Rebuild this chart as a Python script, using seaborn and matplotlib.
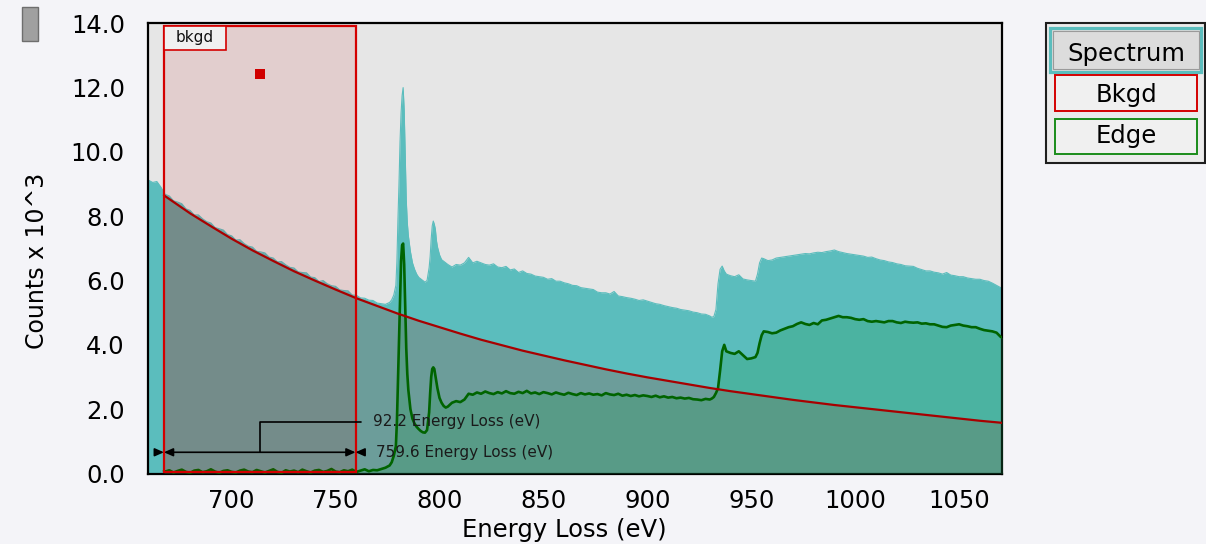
import numpy as np
import pandas as pd
import matplotlib
matplotlib.use("Agg")
import matplotlib.pyplot as plt
from matplotlib.patches import Rectangle
import seaborn as sns

# ---------------------------------------------------------------------------
# EELS spectrum around the Fe L2,3 edges (counts in units of 10^3)
# ---------------------------------------------------------------------------
energy_ev = np.concatenate([
    [660, 662, 664, 666, 667.4],
    np.arange(668, 777, 2),
    [777, 778, 779, 779.5, 780, 780.5, 781, 781.5, 782, 782.5,
     783, 783.5, 784, 784.5, 785],
    np.arange(786, 795, 1),
    [795, 795.5, 796, 796.5, 797, 797.5, 798, 798.5, 799],
    np.arange(800, 805, 1),
    np.arange(806, 931, 2),
    np.arange(931, 938, 1),
    np.arange(938, 953, 2),
    [953, 954, 955],
    np.arange(956, 1071, 2),
    [1071],
]).astype(float)

spectrum_counts = [
    9.12, 9.05, 9.08, 8.90, 8.74,
    8.68, 8.63, 8.48, 8.44, 8.39,
    8.23, 8.18, 8.04, 8.04, 7.92, 7.83, 7.79, 7.65, 7.61, 7.57,
    7.43, 7.39, 7.26, 7.27, 7.15, 7.07, 7.04, 6.91, 6.89, 6.86,
    6.73, 6.70, 6.58, 6.59, 6.49, 6.41, 6.39, 6.27, 6.25, 6.24,
    6.11, 6.09, 5.97, 6.00, 5.90, 5.84, 5.82, 5.71, 5.69, 5.68,
    5.55, 5.54, 5.46, 5.45, 5.39, 5.38, 5.30, 5.28, 5.26, 5.32,
    5.40, 5.55, 5.85, 6.60, 7.90, 9.00, 10.30, 11.20, 11.75, 12.00,
    11.30, 9.90, 8.50, 7.80, 7.40,
    6.90, 6.55, 6.35, 6.20, 6.10, 6.05, 6.00, 5.95, 6.00,
    6.40, 6.75, 7.30, 7.70, 7.85, 7.75, 7.60, 7.25, 7.05,
    6.80, 6.65, 6.60, 6.55, 6.50,
    6.42, 6.50, 6.48, 6.55, 6.72, 6.55, 6.60, 6.55, 6.50, 6.48, 6.52, 6.42,
    6.40, 6.44, 6.33, 6.36, 6.25, 6.30, 6.22, 6.20, 6.14, 6.12,
    6.10, 6.04, 6.06, 5.98, 5.98, 5.93, 5.90, 5.85, 5.84, 5.78,
    5.76, 5.74, 5.72, 5.64, 5.62, 5.62, 5.58, 5.66, 5.52, 5.50,
    5.47, 5.45, 5.42, 5.38, 5.40, 5.36, 5.32, 5.28, 5.26, 5.22,
    5.19, 5.16, 5.14, 5.10, 5.08, 5.06, 5.02, 5.00, 4.96, 4.95,
    4.90,
    4.86, 4.88, 5.10, 5.90, 6.35, 6.45, 6.30,
    6.20, 6.15, 6.12, 6.18, 6.05, 6.02, 6.00, 5.98,
    6.20, 6.55, 6.70,
    6.68, 6.62, 6.64, 6.70, 6.72, 6.74, 6.76, 6.78, 6.80, 6.82,
    6.84, 6.83, 6.86, 6.88, 6.87, 6.90, 6.92, 6.95, 6.90, 6.87,
    6.84, 6.82, 6.80, 6.78, 6.76, 6.72, 6.73, 6.68, 6.64, 6.62,
    6.58, 6.56, 6.52, 6.50, 6.46, 6.45, 6.44, 6.38, 6.34, 6.30,
    6.30, 6.26, 6.24, 6.20, 6.25, 6.17, 6.15, 6.12, 6.12, 6.08,
    6.06, 6.04, 6.04, 6.00, 5.98, 5.92, 5.85, 5.78,
    5.76,
]

# Background-subtracted edge signal, defined from the window start onwards
edge_counts = [
    0.08,
    0.06, 0.10, 0.03, 0.08, 0.12,
    0.05, 0.02, 0.09, 0.11, 0.04, 0.07, 0.13, 0.06, 0.02, 0.08,
    0.10, 0.05, 0.03, 0.09, 0.12, 0.06, 0.04, 0.11, 0.07, 0.03,
    0.08, 0.13, 0.05, 0.02, 0.10, 0.06, 0.09, 0.04, 0.12, 0.07,
    0.03, 0.09, 0.11, 0.05, 0.08, 0.14, 0.06, 0.04, 0.10, 0.07,
    0.12, 0.05, 0.09, 0.13, 0.07, 0.11, 0.10, 0.14, 0.18, 0.25,
    0.35, 0.55, 0.85, 1.60, 2.80, 4.10, 5.40, 6.60, 7.10, 7.15,
    6.50, 5.20, 3.90, 3.10, 2.60,
    2.00, 1.70, 1.55, 1.45, 1.38, 1.32, 1.28, 1.27, 1.35,
    1.90, 2.50, 3.00, 3.25, 3.30, 3.25, 3.05, 2.85, 2.65,
    2.35, 2.20, 2.10, 2.05, 2.08,
    2.20, 2.25, 2.22, 2.30, 2.48, 2.45, 2.52, 2.48, 2.55, 2.50, 2.47, 2.53,
    2.49, 2.56, 2.50, 2.48, 2.54, 2.50, 2.57, 2.49, 2.52, 2.47,
    2.53, 2.50, 2.46, 2.52, 2.48, 2.45, 2.51, 2.47, 2.44, 2.50,
    2.46, 2.49, 2.45, 2.47, 2.43, 2.50, 2.46, 2.44, 2.48, 2.42,
    2.45, 2.41, 2.44, 2.40, 2.43, 2.41, 2.38, 2.42, 2.37, 2.40,
    2.36, 2.38, 2.34, 2.36, 2.33, 2.35, 2.31, 2.30, 2.28, 2.32,
    2.30,
    2.33, 2.38, 2.50, 2.65, 3.20, 3.80, 4.00,
    3.80, 3.75, 3.72, 3.80, 3.68, 3.56, 3.58, 3.62,
    3.75, 4.05, 4.30,
    4.42, 4.40, 4.36, 4.38, 4.45, 4.50, 4.55, 4.58, 4.65, 4.70,
    4.65, 4.62, 4.68, 4.64, 4.76, 4.78, 4.82, 4.86, 4.90, 4.86,
    4.86, 4.84, 4.80, 4.78, 4.80, 4.74, 4.72, 4.74, 4.72, 4.70,
    4.74, 4.74, 4.70, 4.68, 4.72, 4.70, 4.69, 4.70, 4.66, 4.67,
    4.64, 4.64, 4.60, 4.56, 4.55, 4.60, 4.62, 4.64, 4.60, 4.58,
    4.55, 4.55, 4.50, 4.46, 4.44, 4.42, 4.38, 4.25,
    4.22,
]

# Fitted power-law background, sampled along the energy axis
bkgd_energy = [667.4, 680, 690, 700, 710, 720, 730, 740, 750, 760,
               770, 780, 790, 800, 810, 820, 830, 840, 850, 860,
               870, 880, 890, 900, 910, 920, 930, 940, 950, 960,
               970, 980, 990, 1000, 1010, 1020, 1030, 1040, 1050, 1060,
               1070, 1071]
bkgd_counts = [8.65, 8.09, 7.69, 7.30, 6.94, 6.61, 6.29, 6.00, 5.72, 5.45,
               5.21, 4.97, 4.75, 4.55, 4.35, 4.16, 3.99, 3.82, 3.67, 3.52,
               3.38, 3.24, 3.11, 2.99, 2.88, 2.77, 2.66, 2.56, 2.47, 2.38,
               2.29, 2.21, 2.13, 2.06, 1.99, 1.92, 1.85, 1.78, 1.71, 1.64,
               1.58, 1.57]

# Background fitting window
window_end = 759.6
window_width = 92.2
window_start = round(window_end - window_width, 1)
window_handle = (713.5, 12.42)

x_ticks = [700, 750, 800, 850, 900, 950, 1000, 1050]
y_ticks = [0, 2, 4, 6, 8, 10, 12, 14]
legend_labels = ["Spectrum", "Bkgd", "Edge"]

spectrum_counts = np.asarray(spectrum_counts)
edge_energy = energy_ev[energy_ev >= window_start - 1e-9]
edge_counts = np.asarray(edge_counts)
assert len(spectrum_counts) == len(energy_ev)
assert len(edge_counts) == len(edge_energy)

spec_df = pd.DataFrame({"energy": energy_ev, "counts": spectrum_counts})
edge_df = pd.DataFrame({"energy": edge_energy, "counts": edge_counts})
bkgd_df = pd.DataFrame({"energy": bkgd_energy, "counts": bkgd_counts})

# ---------------------------------------------------------------------------
sns.set_theme(style="white")
plt.rcParams["font.family"] = ["DejaVu Sans"]

W, H = 1206, 544
fig = plt.figure(figsize=(W / 100, H / 100), dpi=100, facecolor="#F4F4F8")


def fx(px):
    return px / W


def fy(py):
    return 1 - py / H


ax = fig.add_axes([fx(147.5), fy(473.5), fx(1001.5) - fx(147.5), fy(23.3) - fy(473.5)])
ax.set_facecolor("#E6E6E6")

TEAL = "#5BBDBD"
BKGD_RED = "#A80000"
EDGE_GREEN = "#006400"
WIN_RED = "#D40000"

# spectrum area
ax.fill_between(spec_df["energy"], 0, spec_df["counts"], color=TEAL, lw=0, zorder=1)
sns.lineplot(data=spec_df, x="energy", y="counts", estimator=None, sort=False,
             color=TEAL, lw=0.8, ax=ax, zorder=1.1, legend=False)

# background area and edge area
ax.fill_between(bkgd_df["energy"], 0, bkgd_df["counts"],
                color=(125 / 255, 127 / 255, 121 / 255), alpha=0.5, lw=0, zorder=2)
ax.fill_between(edge_df["energy"], 0, edge_df["counts"],
                color=(30 / 255, 150 / 255, 80 / 255), alpha=0.25, lw=0, zorder=3)

sns.lineplot(data=edge_df, x="energy", y="counts", estimator=None, sort=False,
             color=EDGE_GREEN, lw=1.9, ax=ax, zorder=4, legend=False)
sns.lineplot(data=bkgd_df, x="energy", y="counts", estimator=None, sort=False,
             color=BKGD_RED, lw=1.6, ax=ax, zorder=5, legend=False)

# fitting window
ax.add_patch(Rectangle((window_start, 0.04), window_width, 13.89,
                       facecolor=(0.75, 0, 0, 0.1), edgecolor=WIN_RED, lw=1.6, zorder=6))
ax.add_patch(Rectangle((window_start, 13.17), 29.7, 0.76,
                       facecolor="#F0F0F0", edgecolor=WIN_RED, lw=1.2, zorder=7))
ax.text(window_start + 29.7 / 2, 13.55, "bkgd", ha="center", va="center",
        fontsize=11, color="#111111", zorder=8)
sns.scatterplot(x=[window_handle[0]], y=[window_handle[1]], marker="s", s=46,
                color="#D00000", linewidth=0, ax=ax, zorder=8, legend=False)

# window dimension markers
arrow_y = 0.66
bracket_y = 1.61
head = "-|>,head_length=0.45,head_width=0.2"
both = "<|-|>,head_length=0.45,head_width=0.2"
ax.annotate("", xy=(window_start, arrow_y), xytext=(window_end, arrow_y),
            arrowprops=dict(arrowstyle=both, color="black", lw=1.2,
                            shrinkA=0, shrinkB=0, mutation_scale=12), zorder=9)
ax.annotate("", xy=(window_start, arrow_y), xytext=(663.1, arrow_y),
            arrowprops=dict(arrowstyle=head, color="black", lw=1.2,
                            shrinkA=0, shrinkB=0, mutation_scale=12), zorder=9)
ax.annotate("", xy=(window_end, arrow_y), xytext=(762.7, arrow_y),
            arrowprops=dict(arrowstyle=head, color="black", lw=1.2,
                            shrinkA=0, shrinkB=0, mutation_scale=12), zorder=9)
mid = window_start + window_width / 2
ax.plot([mid, mid, 762.2], [arrow_y, bracket_y, bracket_y], color="black", lw=1.2, zorder=9)
ax.text(768.0, bracket_y, f"{window_width:.1f} Energy Loss (eV)", ha="left", va="center",
        fontsize=11, color="#1A1A1A", zorder=9)
ax.text(769.4, arrow_y - 0.02, f"{window_end:.1f} Energy Loss (eV)", ha="left", va="center",
        fontsize=11, color="#1A1A1A", zorder=9)

# axes styling
ax.set_xlim(659.5, 1070.4)
ax.set_ylim(0, 14)
ax.set_xticks(x_ticks)
ax.set_yticks(y_ticks)
ax.set_yticklabels([f"{v:.1f}" for v in y_ticks])
ax.set_xlabel("")
ax.set_ylabel("")
for s in ax.spines.values():
    s.set_color("black")
    s.set_linewidth(1.6)
ax.tick_params(axis="both", direction="out", length=6.3, width=1.5,
               color="black", labelcolor="black", labelsize=17.5)
ax.tick_params(axis="y", pad=10)
ax.tick_params(axis="x", pad=4.5)

fig.text(fx(564), fy(536.7), "Energy Loss (eV)", ha="center", va="baseline",
         fontsize=17.5, color="black")
fig.text(fx(37), fy(261), "Counts x 10^3", ha="center", va="center",
         rotation=90, fontsize=17, color="black")

# small grip button in the corner
fig.add_artist(Rectangle((fx(21.7), fy(40.7)), fx(37.7) - fx(21.7), fy(6.7) - fy(40.7),
                         transform=fig.transFigure, facecolor="#A0A0A0",
                         edgecolor="#6E6E6E", lw=1.0))

# series selector panel
def fig_rect(x0, y0, x1, y1, **kw):
    fig.add_artist(Rectangle((fx(x0), fy(y1)), fx(x1) - fx(x0), fy(y0) - fy(y1),
                             transform=fig.transFigure, **kw))


fig_rect(1046, 22.7, 1204.5, 163.3, facecolor="#EBEBEB", edgecolor="#1E1E1E", lw=1.5)
fig_rect(1050.3, 28.3, 1201.3, 71.7, facecolor="#DCDCDC", edgecolor=TEAL, lw=2.3)
fig_rect(1052.8, 30.8, 1198.8, 69.2, facecolor="none", edgecolor="#9A9A9A", lw=0.8)
fig_rect(1054.5, 75.5, 1197, 111, facecolor="#F0F0F0", edgecolor=WIN_RED, lw=1.4)
fig_rect(1054.5, 118.8, 1197, 154.5, facecolor="#F0F0F0", edgecolor="#1A8C1A", lw=1.4)
for label, base in zip(legend_labels, [60.7, 101.7, 142.7]):
    fig.text(fx(1126), fy(base), label, ha="center", va="baseline",
             fontsize=17.5, color="black")

fig.savefig("out.png", dpi=100, facecolor=fig.get_facecolor())
